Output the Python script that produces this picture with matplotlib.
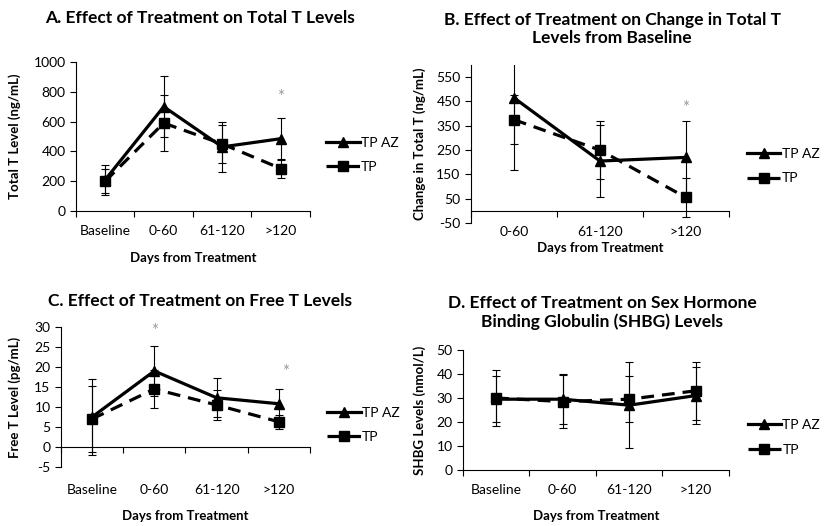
import numpy as np
import matplotlib.pyplot as plt
from matplotlib.ticker import FixedLocator, NullFormatter

plt.rcParams['font.family'] = ['Lato', 'DejaVu Sans']
plt.rcParams['axes.unicode_minus'] = False

days4 = ["Baseline", "0-60", "61-120", ">120"]
days3 = ["0-60", "61-120", ">120"]

# A. total T (ng/mL)
total_tpaz = [210, 700, 430, 485]
total_tpaz_err = [100, 205, 170, 140]
total_tp = [200, 590, 450, 285]
total_tp_err = [80, 190, 125, 65]

# B. change in total T from baseline (ng/mL)
change_tpaz = [465, 205, 220]
change_tpaz_err = [295, 150, 150]
change_tp = [375, 250, 55]
change_tp_err = [100, 120, 80]

# C. free T (pg/mL)
free_tpaz = [7.5, 19, 12.3, 10.8]
free_tpaz_err = [9.5, 6.3, 4.9, 3.7]
free_tp = [7, 14.5, 10.5, 6.3]
free_tp_err = [8.2, 4.7, 3.8, 1.7]

# D. SHBG (nmol/L)
shbg_tpaz = [29.5, 29.5, 27, 31]
shbg_tpaz_err = [9.5, 10.5, 18, 12]
shbg_tp = [30, 28.5, 29.5, 33]
shbg_tp_err = [11.5, 11, 9.7, 12]

# significance markers (category index, y)
stars_a = [(3, 765)]
stars_b = [(2, 425)]
stars_c = [(1, 29), (3.1, 18.7)]


def draw_panel(rect, cats, tpaz, tpaz_err, tp, tp_err, ylim, yticks, ylabel,
               ylab_x, xlab_y, label_pad, leg_y, stars):
    ax = fig.add_axes(rect)
    x = np.arange(len(cats))
    # error bars first, lines on top
    ax.errorbar(x, tpaz, yerr=tpaz_err, fmt='none', ecolor='black',
                elinewidth=0.8, capsize=3, capthick=0.8, zorder=2)
    ax.errorbar(x, tp, yerr=tp_err, fmt='none', ecolor='black',
                elinewidth=0.8, capsize=3, capthick=0.8, zorder=2)
    ax.plot(x, tpaz, color='black', lw=2.3, marker='^', ms=7.5, label='TP AZ', zorder=3)
    ax.plot(x, tp, color='black', lw=2.3, ls=(0, (4, 2.5)), marker='s', ms=6.5,
            label='TP', zorder=3)
    for sx, sy in stars:
        ax.text(sx, sy, '*', color='#999999', fontsize=12, ha='center', va='center')

    ax.set_xlim(-0.5, len(cats) - 0.5)
    ax.set_ylim(*ylim)
    ax.set_yticks(yticks)
    ax.set_xticks(x)
    ax.set_xticklabels(cats)
    ax.xaxis.set_minor_locator(FixedLocator(np.arange(len(cats) + 1) - 0.5))
    ax.xaxis.set_minor_formatter(NullFormatter())
    ax.tick_params(axis='x', which='major', length=0, pad=label_pad, labelsize=10)
    ax.tick_params(axis='x', which='minor', length=4, width=0.8)
    ax.tick_params(axis='y', length=4, width=0.8, labelsize=10)
    ax.spines['top'].set_visible(False)
    ax.spines['right'].set_visible(False)
    ax.spines['bottom'].set_position(('data', 0))
    ax.spines['left'].set_linewidth(0.8)
    ax.spines['bottom'].set_linewidth(0.8)

    ax.set_ylabel(ylabel, fontsize=9.5, fontweight='bold')
    ax.yaxis.set_label_coords(ylab_x, 0.5)
    ax.set_xlabel('Days from Treatment', fontsize=9.5, fontweight='bold')
    ax.xaxis.set_label_coords(0.5, xlab_y)

    ax.legend(loc='center left', bbox_to_anchor=(1.07, leg_y), frameon=False,
              fontsize=10, handlelength=2.4, handletextpad=0.1, labelspacing=0.9,
              borderaxespad=0, borderpad=0)
    return ax


fig = plt.figure(figsize=(8.25, 5.26), dpi=100)

draw_panel([0.0921, 0.5989, 0.2836, 0.2833], days4, total_tpaz, total_tpaz_err,
           total_tp, total_tp_err, (0, 1000), np.arange(0, 1001, 200),
           'Total T Level (ng/mL)', -0.235, -0.275, 10, 0.376, stars_a)
draw_panel([0.5709, 0.5760, 0.3127, 0.3004], days3, change_tpaz, change_tpaz_err,
           change_tp, change_tp_err, (-50, 600), np.arange(-50, 551, 100),
           'Change in Total T (ng/mL)', -0.174, -0.118, 11, 0.36, stars_b)
draw_panel([0.0739, 0.1122, 0.3018, 0.2662], days4, free_tpaz, free_tpaz_err,
           free_tp, free_tp_err, (-5, 30), np.arange(-5, 31, 5),
           'Free T Level (pg/mL)', -0.16, -0.307, 27, 0.30, stars_c)
draw_panel([0.5612, 0.1065, 0.3224, 0.2281], days4, shbg_tpaz, shbg_tpaz_err,
           shbg_tp, shbg_tp_err, (0, 50), np.arange(0, 51, 10),
           'SHBG Levels (nmol/L)', -0.139, -0.333, 10, 0.27, [])

title_kw = dict(fontsize=12.5, fontweight='bold', ha='center', va='center')
fig.text(0.2424, 0.966, 'A. Effect of Treatment on Total T Levels', **title_kw)
fig.text(0.742, 0.945, 'B. Effect of Treatment on Change in Total T\nLevels from Baseline',
         linespacing=1.2, **title_kw)
fig.text(0.2424, 0.428, 'C. Effect of Treatment on Free T Levels', **title_kw)
fig.text(0.730, 0.406, 'D. Effect of Treatment on Sex Hormone\nBinding Globulin (SHBG) Levels',
         linespacing=1.2, **title_kw)

fig.savefig('out.png', dpi=100)
